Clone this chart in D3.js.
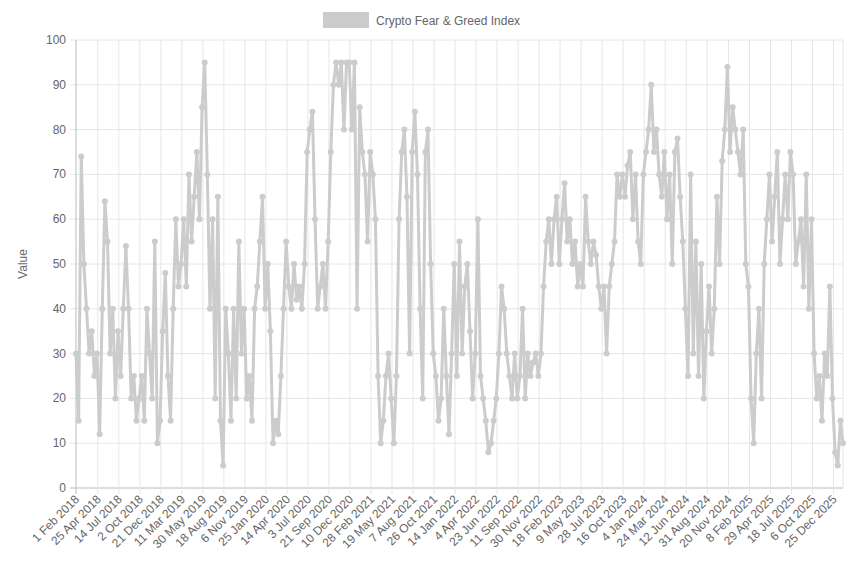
<!DOCTYPE html>
<html><head><meta charset="utf-8">
<script src="https://cdn.jsdelivr.net/npm/d3@7"></script>
<style>body{margin:0;background:#fff;font-family:"Liberation Sans",Arial,sans-serif}</style>
</head><body><svg id="c" width="860" height="573"></svg>
<script>
const seriesName = "Crypto Fear & Greed Index";
const startDate = "2018-02-01";
const stepDays = 10;
const values = [
30,15,74,50,40,30,35,25, 30,12,40,64,55,30,40,20, 35,25,40,54,40,20,25,15,
20,25,15,40,30,20,55,10, 15,35,48,25,15,40,60,45, 50,60,45,70,55,65,75,60,
85,95,70,40,60,20,65,15, 5,40,30,15,40,20,55,30, 40,20,25,15,40,45,55,65,
40,50,35,10,15,12,25,40, 55,45,40,50,42,45,40,50, 75,80,84,60,40,45,50,40,
55,75,90,95,90,95,80,95, 95,80,95,40,85,75,70,55, 75,70,60,25,10,15,25,30,
20,10,25,60,75,80,65,30, 75,84,70,40,20,75,80,50, 30,25,15,20,40,25,12,30,
50,25,55,30,45,50,35,20, 30,60,25,20,15,8,10,15, 20,30,45,40,30,25,20,30,
20,25,40,20,30,25,28,30, 25,30,45,55,60,50,60,65, 50,60,68,55,60,50,55,45,
50,45,65,55,50,55,52,45, 40,45,30,45,50,55,70,65, 70,65,72,75,60,70,55,50,
70,75,80,90,75,80,70,65, 75,60,70,50,75,78,65,55, 40,25,70,30,55,25,50,20,
35,45,30,40,65,50,73,80, 94,75,85,80,75,70,80,50, 45,20,10,30,40,20,50,60,
70,55,65,75,50,60,70,60, 75,70,50,55,60,45,70,40, 60,30,20,25,15,30,25,45,
20,8,5,15,10
];
const xTickLabels = ["1 Feb 2018","25 Apr 2018","14 Jul 2018","2 Oct 2018","21 Dec 2018","11 Mar 2019","30 May 2019","18 Aug 2019","6 Nov 2019","25 Jan 2020","14 Apr 2020","3 Jul 2020","21 Sep 2020","10 Dec 2020","28 Feb 2021","19 May 2021","7 Aug 2021","26 Oct 2021","14 Jan 2022","4 Apr 2022","23 Jun 2022","11 Sep 2022","30 Nov 2022","18 Feb 2023","9 May 2023","28 Jul 2023","16 Oct 2023","4 Jan 2024","24 Mar 2024","12 Jun 2024","31 Aug 2024","20 Nov 2024","8 Feb 2025","29 Apr 2025","18 Jul 2025","6 Oct 2025","25 Dec 2025"];
const yTicks = [0,10,20,30,40,50,60,70,80,90,100];

const parse = d3.timeParse("%-d %b %Y");
const t0 = d3.timeParse("%Y-%m-%d")(startDate);
const data = values.map((v,i)=>({d:d3.timeDay.offset(t0,i*stepDays),v}));
const tickDates = xTickLabels.map(parse);
const L=76,R=843,T=40,B=488;
const svg=d3.select("#c");
const x=d3.scaleTime().domain([t0,d3.timeDay.offset(t0,(values.length-1)*stepDays)]).range([L,R]);
const y=d3.scaleLinear().domain([0,100]).range([B,T]);
const col="#cccccc", txt="#666";

// grid
svg.append("g").selectAll("line").data(yTicks).join("line")
 .attr("x1",L-6).attr("x2",R).attr("y1",d=>y(d)).attr("y2",d=>y(d))
 .attr("stroke",d=>d===0?"#bbb":"#e6e6e6");
svg.append("g").selectAll("line").data(tickDates).join("line")
 .attr("x1",d=>x(d)).attr("x2",d=>x(d)).attr("y1",T).attr("y2",B+6)
 .attr("stroke",(d,i)=>i===0?"#bbb":"#e6e6e6");
svg.append("line").attr("x1",R).attr("x2",R).attr("y1",T).attr("y2",B).attr("stroke","#e6e6e6");

// y labels
svg.append("g").selectAll("text").data(yTicks).join("text")
 .attr("x",L-10).attr("y",d=>y(d)+4).attr("text-anchor","end")
 .attr("font-size",12).attr("fill",txt).text(d=>d);
svg.append("text").attr("transform",`translate(27,${(T+B)/2}) rotate(-90)`)
 .attr("text-anchor","middle").attr("font-size",12).attr("fill",txt).text("Value");

// x labels
svg.append("g").selectAll("text").data(tickDates).join("text")
 .attr("transform",(d,i)=>`translate(${x(d)+4},${B+12}) rotate(-45)`)
 .attr("text-anchor","end").attr("font-size",12).attr("fill",txt)
 .text((d,i)=>xTickLabels[i]);

// series
svg.append("path").datum(data).attr("fill","none").attr("stroke",col).attr("stroke-width",3)
 .attr("d",d3.line().x(d=>x(d.d)).y(d=>y(d.v)));
svg.append("g").selectAll("circle").data(data).join("circle")
 .attr("cx",d=>x(d.d)).attr("cy",d=>y(d.v)).attr("r",3).attr("fill",col);

// legend
svg.append("rect").attr("x",323).attr("y",12).attr("width",46).attr("height",16).attr("fill",col);
svg.append("text").attr("x",376).attr("y",25).attr("font-size",12).attr("fill",txt).text(seriesName);
</script></body></html>
